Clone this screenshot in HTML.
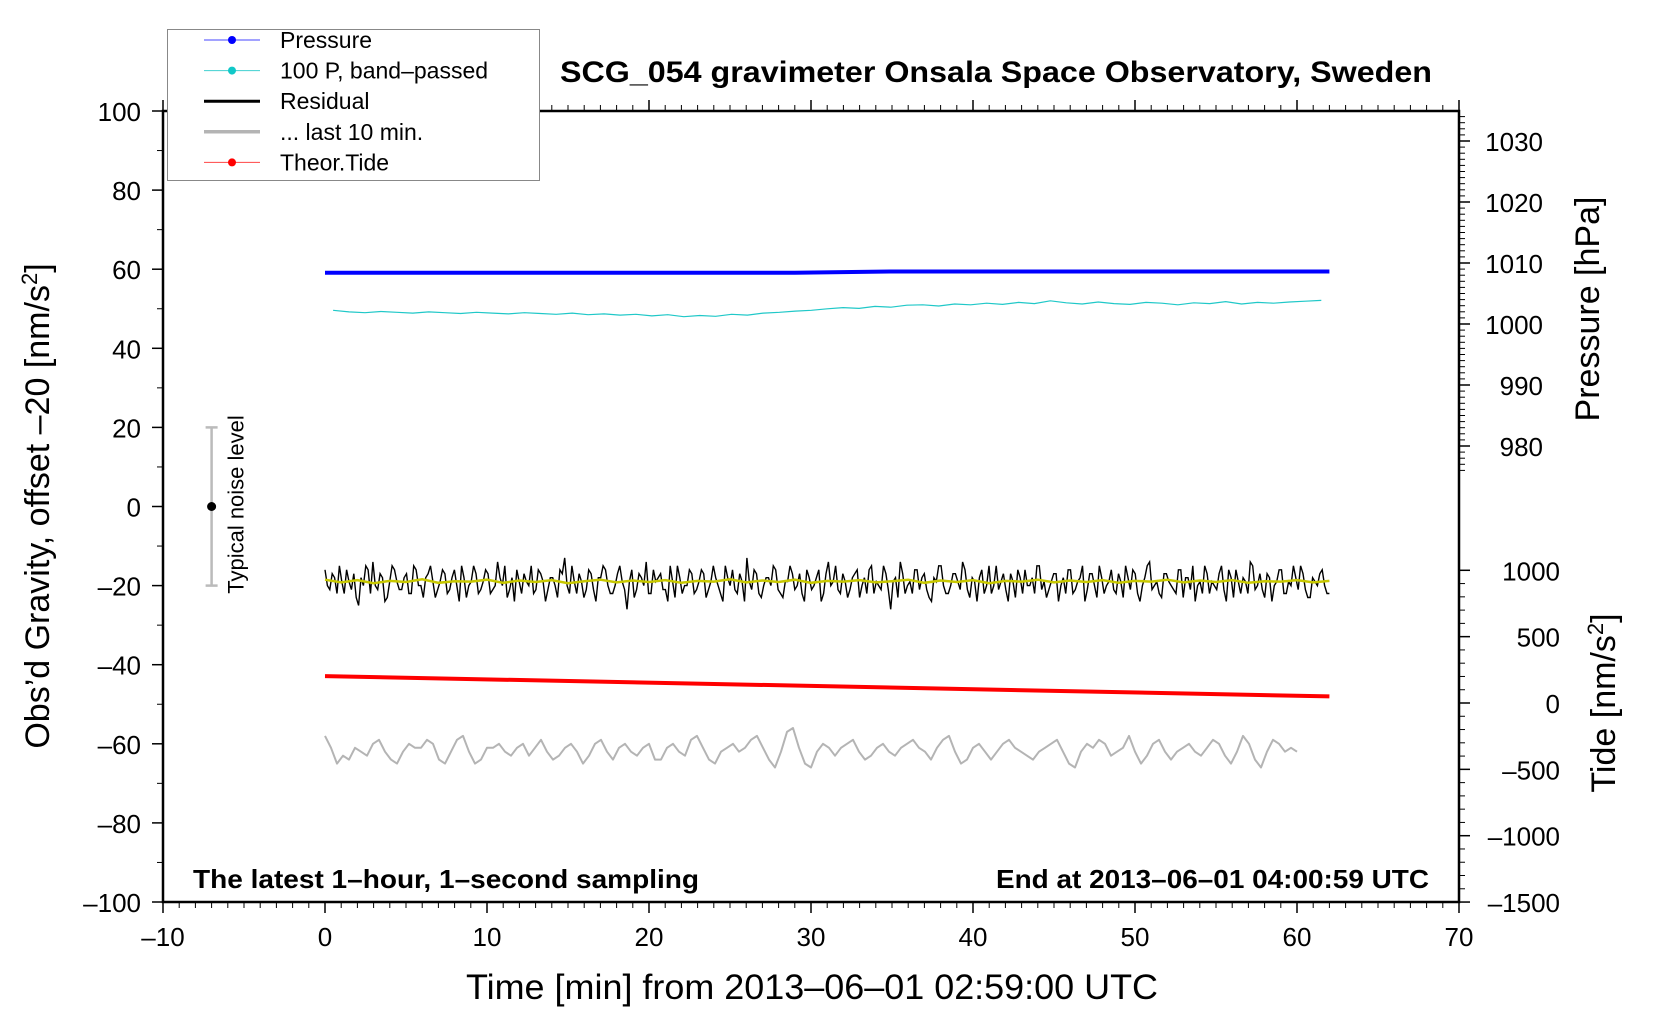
<!DOCTYPE html>
<html><head><meta charset="utf-8">
<style>
html,body{margin:0;padding:0;background:#fff;}
svg{display:block;font-family:"Liberation Sans",Arial,sans-serif;}
</style></head>
<body>
<svg id="chart" width="1660" height="1020" viewBox="0 0 1660 1020" xmlns="http://www.w3.org/2000/svg">
<rect width="1660" height="1020" fill="#fff"/>
<g id="axes"></g>
<g id="series"></g>
<g id="labels"></g>
</svg>
<script>
// ---- data ----
const xTicks=[-10,0,10,20,30,40,50,60,70];
const yTicks=[100,80,60,40,20,0,-20,-40,-60,-80,-100];
const pTicks=[1030,1020,1010,1000,990,980];
const tideTicks=[1000,500,0,-500,-1000,-1500];
const pressureT=[0,29,35,62];
const pressureV=[1008.4,1008.4,1008.6,1008.6];
const tideT=[0,62];
const tideV=[203,50];
const cyanV=[49.6,49.2,49.0,49.3,49.1,48.9,49.2,49.0,48.8,49.1,48.9,48.7,49.0,48.8,48.6,48.9,48.5,48.7,48.4,48.6,48.2,48.5,48.0,48.3,48.1,48.6,48.4,48.9,49.1,49.4,49.6,50.0,50.3,50.1,50.6,50.4,50.9,51.0,50.7,51.2,51.0,51.4,51.1,51.6,51.3,52.0,51.5,51.2,51.7,51.3,51.1,51.6,51.4,51.0,51.5,51.3,51.8,51.2,51.6,51.4,51.7,51.9,52.1];
const residV=[-16,-21,-18,-15,-22,-19,-17,-25,-20,-16,-14,-21,-18,-23,-15,-19,-21,-17,-22,-16,-20,-18,-15,-23,-19,-17,-21,-16,-24,-18,-20,-15,-22,-19,-17,-21,-14,-20,-23,-18,-16,-22,-19,-15,-21,-17,-24,-18,-20,-16,-13,-22,-19,-17,-23,-16,-21,-18,-15,-20,-22,-17,-19,-26,-16,-21,-18,-14,-22,-19,-17,-21,-15,-23,-18,-20,-16,-22,-19,-17,-21,-15,-20,-24,-18,-16,-22,-19,-13,-21,-17,-23,-18,-20,-16,-22,-19,-15,-21,-17,-24,-18,-20,-16,-22,-14,-19,-21,-17,-23,-18,-16,-20,-22,-15,-19,-21,-17,-26,-18,-14,-22,-19,-16,-21,-17,-23,-18,-15,-20,-22,-17,-19,-14,-21,-18,-24,-16,-20,-22,-15,-19,-21,-17,-23,-18,-16,-20,-22,-15,-19,-21,-17,-24,-18,-16,-22,-19,-15,-21,-17,-23,-18,-20,-16,-22,-19,-15,-21,-17,-24,-18,-14,-20,-22,-17,-19,-21,-16,-23,-18,-15,-20,-22,-17,-19,-21,-15,-24,-18,-16,-22,-19,-14,-21,-17,-23,-18,-20,-16,-22,-19,-15,-21,-17,-23,-18,-20,-16,-22];
const residV2=[-20,-17,-22,-19,-16,-21,-23,-18,-15,-22,-20,-17,-24,-19,-16,-21,-18,-22,-15,-20,-23,-17,-19,-21,-16,-22,-18,-20,-15,-23,-19,-17,-21,-16,-22,-20,-18,-15,-21,-24,-19,-17,-20,-22,-16,-19,-21,-18,-23,-17,-20,-15,-22,-19,-21,-17,-24,-18,-16,-22,-20,-15,-21,-19,-23,-17,-20,-22,-16,-18,-21,-24,-19,-15,-22,-20,-17,-21,-16,-23,-19,-18,-22,-15,-20,-21,-17,-24,-19,-16,-22,-20,-18,-15,-21,-23,-19,-17,-20,-22,-16,-21,-18,-24,-17,-20,-15,-22,-19,-21,-17,-23,-18,-16,-22,-20,-15,-21,-19,-23,-17,-20,-22,-16,-18,-21,-24,-19,-15,-22,-20,-17,-21,-16,-23,-19,-18,-22,-15,-20,-21,-17,-24,-19,-16,-22,-20,-18,-15,-21,-23,-19,-17,-20,-22,-16,-21,-18,-24,-17,-20,-15,-22,-19,-21,-17,-23,-18,-16,-22,-20,-15,-21,-19,-23,-17,-20,-22,-16,-18,-21,-24,-19,-15,-22,-20,-17,-21,-16,-23,-19,-18,-22,-15,-20,-21,-17,-24,-19,-16,-22,-20,-18,-15,-21,-23,-19,-17,-20,-22,-16,-21,-18,-20];
const yellowV=[-18.5,-19.2,-18.6,-19.4,-18.8,-19.1,-18.4,-19.3,-18.9,-19.0,-18.5,-19.3,-18.7,-19.1,-18.6,-19.4,-18.9,-18.5,-19.2,-18.7,-19.1,-18.6,-19.3,-18.8,-19.0,-18.4,-19.2,-18.7,-19.1,-18.5,-19.3,-18.8,-19.0,-18.6,-19.2,-18.9,-18.5,-19.3,-18.7,-19.1,-18.6,-19.4,-18.8,-19.0,-18.5,-19.2,-18.7,-19.1,-18.6,-19.3,-18.8,-19.0,-18.5,-19.2,-18.7,-19.1,-18.6,-19.3,-18.9,-19.0,-18.6,-19.2,-18.8];
const grayV=[-58,-61,-65,-63,-64,-61,-62,-63,-60,-59,-62,-64,-65,-62,-60,-61,-61,-59,-60,-64,-65,-62,-59,-58,-62,-65,-64,-61,-61,-60,-62,-63,-61,-60,-63,-61,-59,-62,-64,-63,-61,-60,-62,-65,-63,-60,-59,-62,-64,-61,-60,-62,-63,-61,-60,-64,-64,-61,-60,-62,-63,-59,-58,-61,-64,-65,-62,-61,-60,-62,-61,-59,-58,-61,-64,-66,-62,-57,-56,-61,-65,-66,-62,-60,-61,-63,-61,-60,-59,-62,-64,-63,-61,-60,-62,-63,-61,-60,-59,-61,-62,-64,-61,-59,-58,-62,-65,-64,-61,-60,-62,-64,-62,-60,-59,-61,-62,-63,-64,-62,-61,-60,-59,-62,-65,-66,-62,-60,-61,-59,-60,-63,-62,-61,-58,-62,-65,-63,-60,-59,-62,-64,-62,-61,-60,-62,-63,-61,-59,-60,-63,-65,-62,-58,-60,-64,-66,-62,-59,-60,-62,-61,-62];
// ---- scales ----
const L=163,R=1459,T=111,B=902;
const X=t=>L+(t+10)*(R-L)/80;
const Y=v=>B-(v+100)*(B-T)/200;
const P=p=>324-(p-1000)*6.1;
const TD=v=>703-v*0.1327;
const NS="http://www.w3.org/2000/svg";
function mk(tag,attrs,parent,text){const e=document.createElementNS(NS,tag);for(const k in attrs)e.setAttribute(k,attrs[k]);if(text!==undefined)e.textContent=text;parent.appendChild(e);return e;}
const ax=document.getElementById('axes'),se=document.getElementById('series'),lb=document.getElementById('labels');
let fr=mk('rect',{x:L,y:T,width:R-L,height:B-T,fill:'none',stroke:'#000','stroke-width':2.5},ax);


for(let t=-10;t<=70;t++){const maj=t%10===0;const x=X(t);
 mk('line',{x1:x,x2:x,y1:B,y2:B+(maj?11:6),stroke:'#000','stroke-width':maj?1.5:1},ax);
 mk('line',{x1:x,x2:x,y1:T,y2:T-(maj?11:6),stroke:'#000','stroke-width':maj?1.5:1},ax);}
xTicks.forEach(t=>{const e=mk('text',{x:X(t),y:B+44,'font-size':26,'text-anchor':'middle'},lb,String(t).replace('-','\u2013'));
 
 });
for(let v=-100;v<=100;v+=10){const maj=v%20===0;const y=Y(v);
 mk('line',{x1:L,x2:L-(maj?11:6),y1:y,y2:y,stroke:'#000','stroke-width':maj?1.5:1},ax);}
yTicks.forEach(v=>{const e=mk('text',{x:L-22,y:Y(v)+10,'font-size':26,'text-anchor':'end'},lb,String(v).replace('-','\u2013'));
 
 });
for(let p=976;p<=1034;p++){const maj=p%10===0;const y=P(p);
 mk('line',{x1:R,x2:R+(maj?11:6),y1:y,y2:y,stroke:'#000','stroke-width':maj?1.5:1},ax);}
pTicks.forEach(p=>{const e=mk('text',{x:R+84,y:P(p)+10,'font-size':26,'text-anchor':'end'},lb,p);
 
 });
for(let v=-1500;v<=1000;v+=100){const maj=v%500===0;const y=TD(v);
 mk('line',{x1:R,x2:R+(maj?11:6),y1:y,y2:y,stroke:'#000','stroke-width':maj?1.5:1},ax);}
tideTicks.forEach(v=>{const e=mk('text',{x:R+101,y:TD(v)+10,'font-size':26,'text-anchor':'end'},lb,String(v).replace('-','\u2013'));
 
 });
function path(ts,vs,sc){return ts.map((t,i)=>(i?'L':'M')+X(t).toFixed(1)+','+sc(vs[i]).toFixed(1)).join('');}
function even(vs,t0,t1){return vs.map((v,i)=>t0+(t1-t0)*i/(vs.length-1));}
let s;
s=mk('path',{d:path(pressureT,pressureV,P),fill:'none',stroke:'#0000ff','stroke-width':4},se);


s=mk('path',{d:path(even(cyanV,0.5,61.5),cyanV,Y),fill:'none',stroke:'#20c8c8','stroke-width':1.2},se);


// interleave residual arrays
const resAll=[];residV.forEach((v,i)=>{resAll.push(v);if(i<residV2.length)resAll.push(residV2[i]);});
s=mk('path',{d:path(even(resAll,0,62),resAll,Y),fill:'none',stroke:'#000','stroke-width':1.4},se);


s=mk('path',{d:path(even(yellowV,0,62),yellowV,Y),fill:'none',stroke:'#c8c800','stroke-width':2.5},se);


s=mk('path',{d:path(tideT,tideV,TD),fill:'none',stroke:'#ff0000','stroke-width':4},se);


s=mk('path',{d:path(even(grayV,0,60),grayV,Y),fill:'none',stroke:'#b4b4b4','stroke-width':2,'stroke-linejoin':'round'},se);


const nx=X(-7);
s=mk('g',{},se);


mk('line',{x1:nx,x2:nx,y1:Y(20),y2:Y(-20),stroke:'#bbb','stroke-width':2.5},s);
mk('line',{x1:nx-6,x2:nx+6,y1:Y(20),y2:Y(20),stroke:'#bbb','stroke-width':2.5},s);
mk('line',{x1:nx-6,x2:nx+6,y1:Y(-20),y2:Y(-20),stroke:'#bbb','stroke-width':2.5},s);
mk('circle',{cx:nx,cy:Y(0),r:4.5,fill:'#000'},s);
s=mk('text',{x:0,y:0,'font-size':22,'text-anchor':'middle',transform:`translate(${nx+32},${Y(0)-2}) rotate(-90)`},lb,'Typical noise level');


s=mk('text',{x:996,y:82,'font-size':30,'font-weight':'bold','text-anchor':'middle',textLength:872,lengthAdjust:'spacingAndGlyphs'},lb,'SCG_054 gravimeter Onsala Space Observatory, Sweden');


s=mk('text',{x:193,y:888,'font-size':26,'font-weight':'bold',textLength:506,lengthAdjust:'spacingAndGlyphs'},lb,'The latest 1\u2013hour, 1\u2013second sampling');


s=mk('text',{x:1429,y:888,'font-size':26,'font-weight':'bold','text-anchor':'end',textLength:433,lengthAdjust:'spacingAndGlyphs'},lb,'End at 2013\u201306\u201301 04:00:59 UTC');


s=mk('text',{x:812,y:999,'font-size':35,'text-anchor':'middle',textLength:692,lengthAdjust:'spacingAndGlyphs'},lb,'Time [min] from 2013\u201306\u201301 02:59:00 UTC');


s=mk('text',{x:0,y:0,'font-size':34,'text-anchor':'middle',transform:'translate(49,506) rotate(-90)'},lb,'');
s.innerHTML='Obs\u2019d Gravity, offset \u201320 [nm/s<tspan baseline-shift="super" font-size="22">2</tspan>]';


s=mk('text',{x:0,y:0,'font-size':34,'text-anchor':'middle',transform:'translate(1599,309) rotate(-90)'},lb,'Pressure [hPa]');


s=mk('text',{x:0,y:0,'font-size':34,'text-anchor':'middle',transform:'translate(1615,703) rotate(-90)'},lb,'');
s.innerHTML='Tide [nm/s<tspan baseline-shift="super" font-size="22">2</tspan>]';


const lg=mk('g',{},lb);


mk('rect',{x:167.5,y:29.5,width:372,height:151,fill:'#fff',stroke:'#888','stroke-width':1},lg);
const legNames=['Pressure','100 P, band\u2013passed','Residual','... last 10 min.','Theor.Tide'];
const legCols=['#4444ff','#40d0d0','#000','#b4b4b4','#ff4444'];
const legDot=['#0000ff','#10c8c8',null,null,'#ff0000'];
const legW=[1,1,3,3.5,1];
legNames.forEach((n,i)=>{const y=40+i*30.6;
 const g=mk('g',{},lg);
 
 
 mk('line',{x1:204,x2:260,y1:y,y2:y,stroke:legCols[i],'stroke-width':legW[i]},g);
 if(legDot[i])mk('circle',{cx:232,cy:y,r:4,fill:legDot[i]},g);
 mk('text',{x:280,y:y+8,'font-size':23},g,n);});
</script>
</body></html>
